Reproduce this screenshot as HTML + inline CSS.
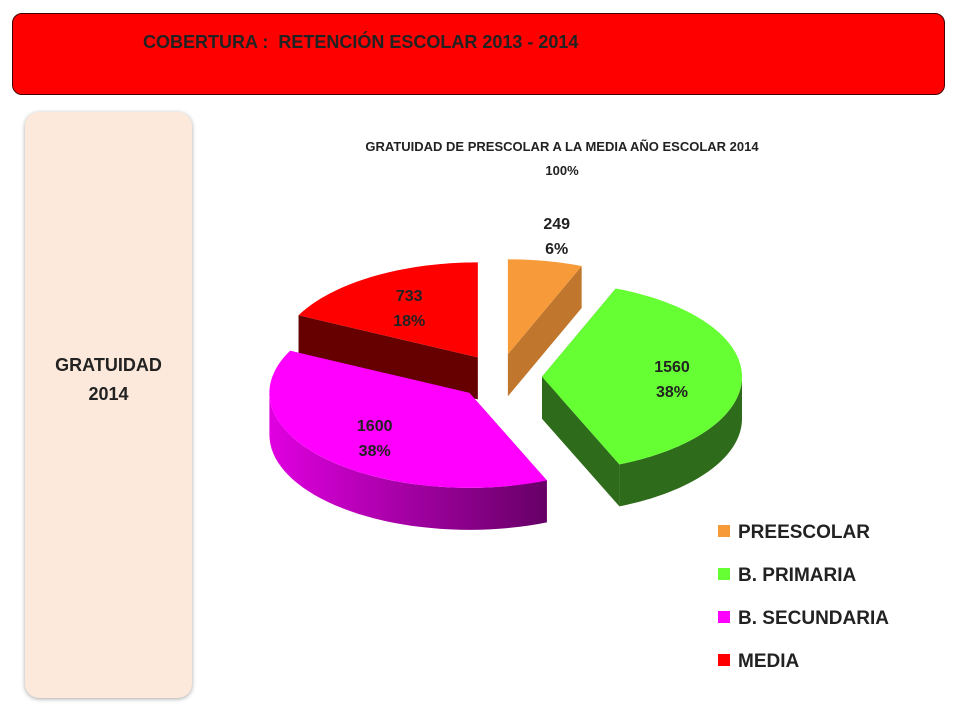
<!DOCTYPE html>
<html><head><meta charset="utf-8"><style>
body{margin:0;width:960px;height:720px;background:#fff;font-family:"Liberation Sans",sans-serif;position:relative;overflow:hidden}
.abs{position:absolute}
</style></head><body>
<div class="abs" style="left:12px;top:13px;width:931px;height:80px;background:#ff0000;border:1px solid #400;border-radius:10px"></div>
<div class="abs" style="left:143px;top:32px;font-size:18px;font-weight:bold;color:#222">COBERTURA :&nbsp; RETENCIÓN ESCOLAR 2013 - 2014</div>
<div class="abs" style="left:25px;top:112px;width:167px;height:586px;background:#fce9dc;border-radius:14px;box-shadow:0 1px 4px rgba(0,0,0,.35)"></div>
<div class="abs" style="left:25px;top:351px;width:167px;text-align:center;font-size:18px;font-weight:bold;color:#222;line-height:29px">GRATUIDAD<br>2014</div>
<div class="abs" style="left:262px;top:135px;width:600px;text-align:center;font-size:13px;font-weight:bold;color:#222;line-height:24px">GRATUIDAD DE PRESCOLAR A LA MEDIA AÑO ESCOLAR 2014<br>100%</div>
<svg class="abs" id="chart" style="left:0;top:0" width="960" height="720">
<defs><linearGradient id="magSide" x1="0" x2="1"><stop offset="0" stop-color="#e000e0"/><stop offset="1" stop-color="#660066"/></linearGradient></defs>
</svg>
<script>
const categories=["PREESCOLAR","B. PRIMARIA","B. SECUNDARIA","MEDIA"];
const values=[249,1560,1600,733];
const percentLabels=["6%","38%","38%","18%"];
const topColors=["#f79a3a","#66ff33","#ff00ff","#ff0000"];
const sideColors=["#c0762c","#2e6b1a","url(#magSide)","#660000"];
const radialColors=["#c0762c","#2e6b1a","#9a009a","#660000"];
const svg=document.getElementById('chart');
const NS="http://www.w3.org/2000/svg";
const cx=500,cy=377,rx=200,ry=95,depth=42,explode=42;
const total=values.reduce((a,b)=>a+b,0);
function pt(t,ox,oy,dz){const r=t*Math.PI/180;return [cx+ox+rx*Math.sin(r),cy+oy-ry*Math.cos(r)+dz];}
function mk(tag,attrs){const e=document.createElementNS(NS,tag);for(const k in attrs)e.setAttribute(k,attrs[k]);return e;}
const slices=[];let acc=0;
values.forEach((v,i)=>{const a0=acc/total*360;acc+=v;const a1=acc/total*360;const mid=(a0+a1)/2;const mr=mid*Math.PI/180;
slices.push({i,a0,a1,mid,ox:explode*Math.sin(mr),oy:-explode*Math.cos(mr)*0.55});});
const order=[3,0,1,2];
order.forEach(k=>{const s=slices[k];const g=mk('g',{});


const c0=[cx+s.ox,cy+s.oy];
[s.a0,s.a1].forEach(a=>{const p=pt(a,s.ox,s.oy,0);
g.appendChild(mk('polygon',{points:`${c0[0]},${c0[1]} ${p[0]},${p[1]} ${p[0]},${p[1]+depth} ${c0[0]},${c0[1]+depth}`,fill:radialColors[k]}));});
const w0=Math.max(s.a0,90),w1=Math.min(s.a1,270);
if(w1>w0){let d='';const N=40;
for(let j=0;j<=N;j++){const p=pt(w0+(w1-w0)*j/N,s.ox,s.oy,0);d+=(j?'L':'M')+p[0]+','+p[1];}
for(let j=N;j>=0;j--){const p=pt(w0+(w1-w0)*j/N,s.ox,s.oy,depth);d+='L'+p[0]+','+p[1];}
g.appendChild(mk('path',{d:d+'Z',fill:sideColors[k]}));}
let d='M'+c0[0]+','+c0[1];const N=60;
for(let j=0;j<=N;j++){const p=pt(s.a0+(s.a1-s.a0)*j/N,s.ox,s.oy,0);d+='L'+p[0]+','+p[1];}
g.appendChild(mk('path',{d:d+'Z',fill:topColors[k]}));
svg.appendChild(g);});
slices.forEach(s=>{const k=s.i;const f=k===0?1.3:0.65;const mr=s.mid*Math.PI/180;
const x=cx+s.ox+f*rx*Math.sin(mr),y=cy+s.oy-f*ry*Math.cos(mr);
const t=mk('text',{x:x,y:y-4,'text-anchor':'middle','font-size':'16','font-weight':'bold',fill:'#222','font-family':'Liberation Sans, sans-serif'});


const t1=mk('tspan',{x:x});t1.textContent=values[k];
const t2=mk('tspan',{x:x,dy:'25'});t2.textContent=percentLabels[k];
t.appendChild(t1);t.appendChild(t2);svg.appendChild(t);});
categories.forEach((c,k)=>{const y=525+k*43;
const r=mk('rect',{x:718,y:y,width:12,height:12,fill:topColors[k]});


svg.appendChild(r);
const t=mk('text',{x:738,y:y+13,'font-size':'19','font-weight':'bold',fill:'#222','font-family':'Liberation Sans, sans-serif'});


t.textContent=c;svg.appendChild(t);});
</script>
</body></html>
